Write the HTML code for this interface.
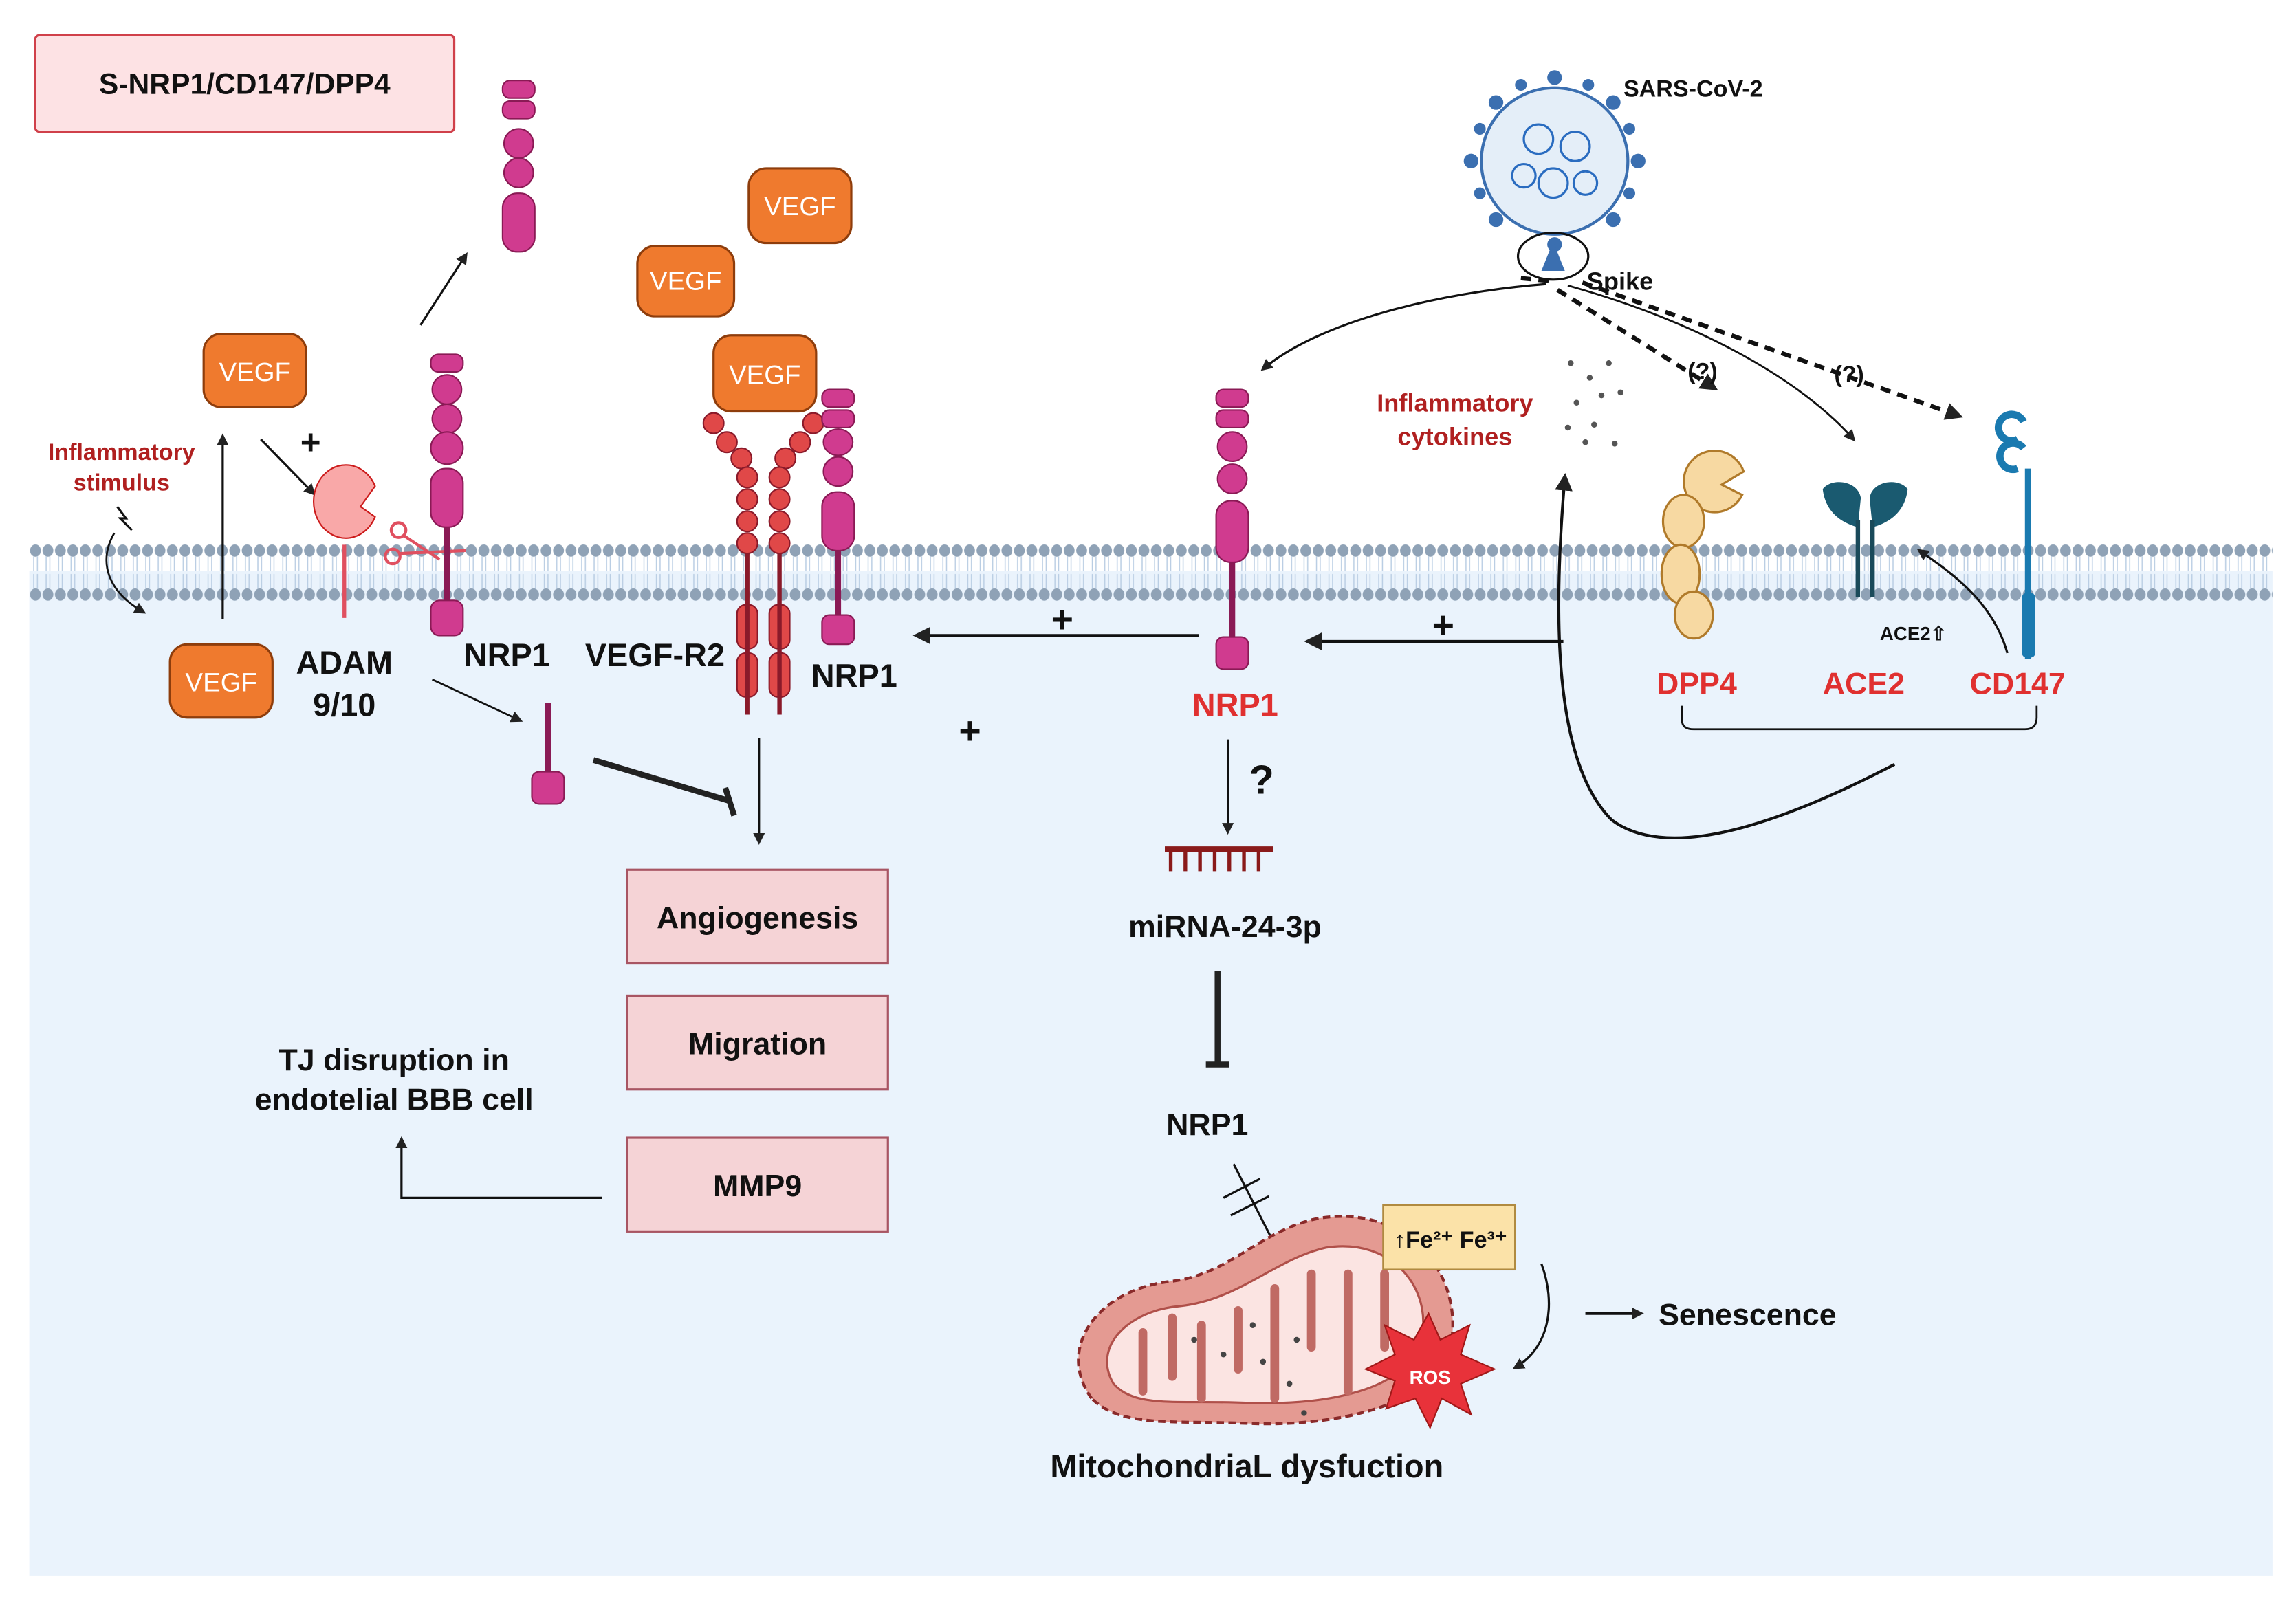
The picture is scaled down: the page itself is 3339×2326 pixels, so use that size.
<!DOCTYPE html>
<html><head><meta charset="utf-8"><style>
html,body{margin:0;padding:0;background:#fff}
svg{display:block}
text{font-family:"Liberation Sans",sans-serif;font-weight:bold}
</style></head><body>
<svg width="3339" height="2326" viewBox="0 0 1567 1092" preserveAspectRatio="none" xmlns="http://www.w3.org/2000/svg">
<defs>
<pattern id="dots" x="20" y="0" width="8.5" height="40" patternUnits="userSpaceOnUse">
<ellipse cx="4.2" cy="376" rx="3.6" ry="4" fill="#8fa2b6"/>
</pattern>
<pattern id="mem" x="20" y="370" width="8.5" height="42" patternUnits="userSpaceOnUse">
<ellipse cx="4.2" cy="6" rx="3.7" ry="4.2" fill="#8fa2b6"/>
<ellipse cx="4.2" cy="36" rx="3.7" ry="4.2" fill="#8fa2b6"/>
<path d="M3 10 L3 20 M5.5 10 L5.5 20 M3 22 L3 32 M5.5 22 L5.5 32" stroke="#b9cde3" stroke-width="0.7"/>
</pattern>
<marker id="ar" markerWidth="8" markerHeight="8" refX="6" refY="4" orient="auto" markerUnits="userSpaceOnUse"><path d="M0,0 L8,4 L0,8 z" fill="#222"/></marker>
<marker id="arb" markerWidth="12" markerHeight="12" refX="9" refY="6" orient="auto" markerUnits="userSpaceOnUse"><path d="M0,0 L12,6 L0,12 z" fill="#222"/></marker>
</defs>
<rect x="20" y="390" width="1531" height="686" fill="#eaf3fc"/>
<rect x="20" y="370" width="1531" height="42" fill="url(#mem)"/>

<!-- title box -->
<rect x="24" y="24" width="286" height="66" rx="3" fill="#fde2e4" stroke="#d0404a" stroke-width="1.5"/>
<text x="167" y="64" font-size="20" text-anchor="middle" fill="#111">S-NRP1/CD147/DPP4</text>

<!-- VEGF boxes -->
<g fill="#ef7a2e" stroke="#8e3d0c" stroke-width="1.5">
<rect x="139" y="228" width="70" height="50" rx="12"/>
<rect x="511" y="115" width="70" height="51" rx="12"/>
<rect x="435" y="168" width="66" height="48" rx="12"/>
<rect x="487" y="229" width="70" height="52" rx="12"/>
<rect x="116" y="440" width="70" height="50" rx="12"/>
</g>
<g font-size="18" fill="#fff" text-anchor="middle" font-weight="normal" style="font-weight:normal">
<text x="174" y="260" style="font-weight:normal">VEGF</text>
<text x="546" y="147" style="font-weight:normal">VEGF</text>
<text x="468" y="198" style="font-weight:normal">VEGF</text>
<text x="522" y="262" style="font-weight:normal">VEGF</text>
<text x="151" y="472" style="font-weight:normal">VEGF</text>
</g>

<!-- Left side -->
<text x="83" y="314" font-size="16" fill="#b02020" text-anchor="middle">Inflammatory</text>
<text x="83" y="335" font-size="16" fill="#b02020" text-anchor="middle">stimulus</text>
<path d="M80 346 L86 354 L82 354 L90 362" stroke="#111" stroke-width="1.5" fill="none"/>
<path d="M78 364 C66 385 75 405 98 418" stroke="#111" stroke-width="1.3" fill="none" marker-end="url(#ar)"/>
<line x1="152" y1="423" x2="152" y2="298" stroke="#111" stroke-width="1.5" marker-end="url(#ar)"/>
<text x="212" y="310" font-size="24" fill="#111" text-anchor="middle">+</text>
<line x1="178" y1="300" x2="214" y2="337" stroke="#111" stroke-width="1.5" marker-end="url(#ar)"/>
<!-- ADAM -->
<path d="M256 332 L246 346 L256 353 A22 25 0 1 1 256 332 Z" fill="#f9a8a8" stroke="#cc1a1a" stroke-width="1"/>
<line x1="235" y1="372" x2="235" y2="422" stroke="#e05060" stroke-width="2.5"/>
<text x="235" y="460" font-size="22" fill="#111" text-anchor="middle">ADAM</text>
<text x="235" y="489" font-size="22" fill="#111" text-anchor="middle">9/10</text>
<!-- scissors -->
<g stroke="#e05060" stroke-width="2" fill="none"><circle cx="272" cy="362" r="5"/><circle cx="268" cy="380" r="5"/><path d="M276 366 L300 382 M273 378 L318 376"/></g>
<!-- NRP1 left -->
<g fill="#d03b8f" stroke="#8a1a55" stroke-width="1">
<rect x="294" y="242" width="22" height="12" rx="5"/>
<ellipse cx="305" cy="266" rx="10" ry="10"/>
<ellipse cx="305" cy="286" rx="10" ry="10"/>
<ellipse cx="305" cy="306" rx="11" ry="11"/>
<rect x="294" y="320" width="22" height="40" rx="10"/>
<rect x="294" y="410" width="22" height="24" rx="6"/>
</g>
<line x1="305" y1="360" x2="305" y2="410" stroke="#8a1a55" stroke-width="4"/>
<text x="346" y="455" font-size="22" fill="#111" text-anchor="middle">NRP1</text>
<line x1="287" y1="222" x2="318" y2="174" stroke="#111" stroke-width="1.5" marker-end="url(#ar)"/>
<!-- soluble NRP1 top -->
<g fill="#d03b8f" stroke="#8a1a55" stroke-width="1">
<rect x="343" y="55" width="22" height="12" rx="5"/>
<rect x="343" y="69" width="22" height="12" rx="5"/>
<ellipse cx="354" cy="98" rx="10" ry="10"/>
<ellipse cx="354" cy="118" rx="10" ry="10"/>
<rect x="343" y="132" width="22" height="40" rx="10"/>
</g>
<!-- cleaved fragment -->
<line x1="295" y1="464" x2="355" y2="492" stroke="#111" stroke-width="1.3" marker-end="url(#ar)"/>
<line x1="374" y1="480" x2="374" y2="530" stroke="#8a1a55" stroke-width="4"/>
<rect x="363" y="527" width="22" height="22" rx="5" fill="#d03b8f" stroke="#8a1a55"/>
<line x1="405" y1="519" x2="498" y2="547" stroke="#222" stroke-width="4"/>
<line x1="495" y1="538" x2="501" y2="557" stroke="#222" stroke-width="4"/>

<!-- VEGF-R2 -->
<g fill="#e04848" stroke="#8a1a2a" stroke-width="1">
<circle cx="487" cy="289" r="7"/><circle cx="496" cy="302" r="7"/><circle cx="506" cy="313" r="7"/>
<ellipse cx="510" cy="326" rx="7" ry="7"/><ellipse cx="510" cy="341" rx="7" ry="7"/><ellipse cx="510" cy="356" rx="7" ry="7"/><ellipse cx="510" cy="371" rx="7" ry="7"/>
<circle cx="555" cy="289" r="7"/><circle cx="546" cy="302" r="7"/><circle cx="536" cy="313" r="7"/>
<ellipse cx="532" cy="326" rx="7" ry="7"/><ellipse cx="532" cy="341" rx="7" ry="7"/><ellipse cx="532" cy="356" rx="7" ry="7"/><ellipse cx="532" cy="371" rx="7" ry="7"/>
<rect x="503" y="413" width="14" height="30" rx="6"/><rect x="503" y="446" width="14" height="30" rx="6"/>
<rect x="525" y="413" width="14" height="30" rx="6"/><rect x="525" y="446" width="14" height="30" rx="6"/>
</g>
<line x1="510" y1="378" x2="510" y2="488" stroke="#8a1a2a" stroke-width="3"/>
<line x1="532" y1="378" x2="532" y2="488" stroke="#8a1a2a" stroke-width="3"/>
<text x="447" y="455" font-size="22" fill="#111" text-anchor="middle">VEGF-R2</text>
<!-- NRP1 middle -->
<g fill="#d03b8f" stroke="#8a1a55" stroke-width="1">
<rect x="561" y="266" width="22" height="12" rx="5"/>
<rect x="561" y="280" width="22" height="12" rx="5"/>
<ellipse cx="572" cy="302" rx="10" ry="9"/>
<ellipse cx="572" cy="322" rx="10" ry="10"/>
<rect x="561" y="336" width="22" height="40" rx="10"/>
<rect x="561" y="420" width="22" height="20" rx="5"/>
</g>
<line x1="572" y1="376" x2="572" y2="420" stroke="#8a1a55" stroke-width="4"/>
<text x="583" y="469" font-size="22" fill="#111" text-anchor="middle">NRP1</text>
<line x1="518" y1="504" x2="518" y2="575" stroke="#111" stroke-width="1.5" marker-end="url(#ar)"/>
<text x="662" y="508" font-size="26" fill="#111" text-anchor="middle">+</text>

<!-- pink boxes -->
<g fill="#f5d3d6" stroke="#a85563" stroke-width="1.5">
<rect x="428" y="594" width="178" height="64"/>
<rect x="428" y="680" width="178" height="64"/>
<rect x="428" y="777" width="178" height="64"/>
</g>
<text x="517" y="634" font-size="21" fill="#111" text-anchor="middle">Angiogenesis</text>
<text x="517" y="720" font-size="21" fill="#111" text-anchor="middle">Migration</text>
<text x="517" y="817" font-size="21" fill="#111" text-anchor="middle">MMP9</text>
<text x="269" y="731" font-size="21" fill="#111" text-anchor="middle">TJ disruption in</text>
<text x="269" y="758" font-size="21" fill="#111" text-anchor="middle">endotelial BBB cell</text>
<polyline points="411,818 274,818 274,778" fill="none" stroke="#111" stroke-width="1.5" marker-end="url(#ar)"/>

<!-- center NRP1 -->
<line x1="818" y1="434" x2="626" y2="434" stroke="#111" stroke-width="2" marker-end="url(#arb)"/>
<text x="725" y="432" font-size="26" fill="#111" text-anchor="middle">+</text>
<g fill="#d03b8f" stroke="#8a1a55" stroke-width="1">
<rect x="830" y="266" width="22" height="12" rx="5"/>
<rect x="830" y="280" width="22" height="12" rx="5"/>
<ellipse cx="841" cy="305" rx="10" ry="10"/>
<ellipse cx="841" cy="327" rx="10" ry="10"/>
<rect x="830" y="342" width="22" height="42" rx="10"/>
<rect x="830" y="435" width="22" height="22" rx="5"/>
</g>
<line x1="841" y1="384" x2="841" y2="435" stroke="#8a1a55" stroke-width="4"/>
<text x="843" y="489" font-size="22" fill="#e03030" text-anchor="middle">NRP1</text>
<line x1="838" y1="505" x2="838" y2="568" stroke="#111" stroke-width="1.5" marker-end="url(#ar)"/>
<text x="861" y="542" font-size="28" fill="#111" text-anchor="middle">?</text>
<!-- miRNA -->
<line x1="795" y1="580" x2="869" y2="580" stroke="#8a1a1a" stroke-width="4"/>
<g stroke="#8a1a1a" stroke-width="2.5"><line x1="799" y1="580" x2="799" y2="595"/><line x1="809" y1="580" x2="809" y2="595"/><line x1="819" y1="580" x2="819" y2="595"/><line x1="829" y1="580" x2="829" y2="595"/><line x1="839" y1="580" x2="839" y2="595"/><line x1="849" y1="580" x2="849" y2="595"/><line x1="859" y1="580" x2="859" y2="595"/></g>
<text x="836" y="640" font-size="21" fill="#111" text-anchor="middle">miRNA-24-3p</text>
<line x1="831" y1="663" x2="831" y2="727" stroke="#222" stroke-width="4"/>
<line x1="823" y1="727" x2="839" y2="727" stroke="#222" stroke-width="4"/>
<text x="824" y="775" font-size="21" fill="#111" text-anchor="middle">NRP1</text>
<line x1="842" y1="795" x2="870" y2="850" stroke="#111" stroke-width="1.5" marker-end="url(#ar)"/>
<line x1="835" y1="818" x2="860" y2="805" stroke="#111" stroke-width="1.5"/>
<line x1="840" y1="830" x2="866" y2="817" stroke="#111" stroke-width="1.5"/>

<!-- mitochondria -->
<path d="M745 955 C720 920 750 880 800 875 C840 870 860 840 900 832 C960 822 1000 870 990 920 C980 960 910 975 850 972 C800 970 765 975 745 955 Z" fill="#e49a92" stroke="#8a2a2a" stroke-width="2" stroke-dasharray="5 3"/>
<path d="M760 945 C745 920 770 895 805 892 C845 888 870 860 905 852 C950 845 978 880 970 915 C960 950 905 960 850 958 C805 956 775 962 760 945 Z" fill="#fbe4e2" stroke="#b0504a" stroke-width="1.5"/>
<g stroke="#c06a64" stroke-width="6" fill="none" stroke-linecap="round">
<path d="M780 950 L780 910"/><path d="M800 900 L800 940"/><path d="M820 955 L820 905"/><path d="M845 895 L845 935"/><path d="M870 955 L870 880"/><path d="M895 870 L895 920"/><path d="M920 950 L920 870"/><path d="M945 870 L945 920"/>
</g>
<g fill="#444"><circle cx="815" cy="915" r="2"/><circle cx="835" cy="925" r="2"/><circle cx="855" cy="905" r="2"/><circle cx="862" cy="930" r="2"/><circle cx="885" cy="915" r="2"/><circle cx="880" cy="945" r="2"/><circle cx="890" cy="965" r="2"/></g>
<polygon points="975,897 983,915 1003,905 997,925 1020,935 997,945 1004,966 984,955 976,975 966,955 946,962 952,943 932,935 952,925 945,905 965,915" fill="#e8323a" stroke="#a01818"/>
<text x="976" y="945" font-size="13" fill="#fff" text-anchor="middle">ROS</text>
<rect x="944" y="823" width="90" height="44" fill="#fbe2a8" stroke="#b08a40" stroke-width="1.2"/>
<text x="990" y="852" font-size="16" fill="#111" text-anchor="middle">↑Fe²⁺ Fe³⁺</text>
<path d="M1052 863 C1062 890 1058 920 1034 934" fill="none" stroke="#111" stroke-width="1.5" marker-end="url(#ar)"/>
<line x1="1082" y1="897" x2="1120" y2="897" stroke="#111" stroke-width="2" marker-end="url(#ar)"/>
<text x="1132" y="905" font-size="21" fill="#111">Senescence</text>
<text x="851" y="1009" font-size="22" fill="#111" text-anchor="middle">MitochondriaL dysfuction</text>

<!-- right: virus -->
<g stroke="#3b6fb0" stroke-width="2">
<circle cx="1061" cy="110" r="50" fill="#e4eef8"/>
</g>
<g fill="#3b6fb0">
<circle cx="1061" cy="53" r="5"/><circle cx="1061" cy="167" r="5"/><circle cx="1004" cy="110" r="5"/><circle cx="1118" cy="110" r="5"/>
<circle cx="1021" cy="70" r="5"/><circle cx="1101" cy="70" r="5"/><circle cx="1021" cy="150" r="5"/><circle cx="1101" cy="150" r="5"/>
<circle cx="1038" cy="58" r="4"/><circle cx="1084" cy="58" r="4"/><circle cx="1010" cy="88" r="4"/><circle cx="1112" cy="88" r="4"/><circle cx="1010" cy="132" r="4"/><circle cx="1112" cy="132" r="4"/>
</g>
<g fill="none" stroke="#2a6cc0" stroke-width="1.5"><circle cx="1050" cy="95" r="10"/><circle cx="1075" cy="100" r="10"/><circle cx="1060" cy="125" r="10"/><circle cx="1040" cy="120" r="8"/><circle cx="1082" cy="125" r="8"/></g>
<ellipse cx="1060" cy="175" rx="24" ry="16" fill="none" stroke="#111" stroke-width="1.5"/>
<path d="M1052 185 L1060 165 L1068 185 Z" fill="#3b6fb0"/>
<text x="1108" y="66" font-size="16" fill="#111">SARS-CoV-2</text>
<text x="1083" y="198" font-size="17" fill="#111">Spike</text>
<path d="M1055 194 C980 200 900 220 862 252" fill="none" stroke="#111" stroke-width="1.5" marker-end="url(#ar)"/>
<path d="M1063 198 L1170 265" stroke="#111" stroke-width="3" stroke-dasharray="7 5" marker-end="url(#arb)"/>
<path d="M1070 195 C1160 220 1230 260 1265 300" fill="none" stroke="#111" stroke-width="1.3" marker-end="url(#ar)"/>
<path d="M1080 193 L1337 284" stroke="#111" stroke-width="3" stroke-dasharray="7 5" marker-end="url(#arb)"/>
<line x1="1038" y1="190" x2="1060" y2="192" stroke="#111" stroke-width="3" stroke-dasharray="7 5"/>
<text x="1162" y="259" font-size="16" fill="#111" text-anchor="middle">(?)</text>
<text x="1262" y="261" font-size="16" fill="#111" text-anchor="middle">(?)</text>
<text x="993" y="281" font-size="17" fill="#b02020" text-anchor="middle">Inflammatory</text>
<text x="993" y="304" font-size="17" fill="#b02020" text-anchor="middle">cytokines</text>
<g fill="#555"><circle cx="1072" cy="248" r="2"/><circle cx="1085" cy="258" r="2"/><circle cx="1098" cy="248" r="2"/><circle cx="1076" cy="275" r="2"/><circle cx="1093" cy="270" r="2"/><circle cx="1106" cy="268" r="2"/><circle cx="1070" cy="292" r="2"/><circle cx="1088" cy="290" r="2"/><circle cx="1102" cy="303" r="2"/><circle cx="1082" cy="302" r="2"/></g>
<line x1="1067" y1="438" x2="893" y2="438" stroke="#111" stroke-width="2" marker-end="url(#arb)"/>
<text x="985" y="436" font-size="26" fill="#111" text-anchor="middle">+</text>
<path d="M1293 522 C1220 560 1140 590 1100 560 C1060 520 1060 420 1068 326" fill="none" stroke="#111" stroke-width="2" marker-end="url(#arb)"/>
<!-- DPP4 -->
<g fill="#f7d9a2" stroke="#b07a2a" stroke-width="1.5">
<path d="M1190 322 L1175 331 L1189 338 A21 21 0 1 1 1190 322 Z"/>
<ellipse cx="1149" cy="356" rx="14" ry="18"/>
<ellipse cx="1147" cy="392" rx="13" ry="20"/>
<ellipse cx="1156" cy="420" rx="13" ry="16"/>
</g>
<!-- ACE2 -->
<g fill="#1a5a70">
<path d="M1244 334 C1250 326 1268 328 1270 340 L1268 360 C1260 358 1246 352 1244 334Z"/>
<path d="M1302 334 C1296 326 1278 328 1276 340 L1278 360 C1286 358 1300 352 1302 334Z"/>
</g>
<line x1="1268" y1="355" x2="1268" y2="408" stroke="#1a4a5a" stroke-width="3"/>
<line x1="1278" y1="355" x2="1278" y2="408" stroke="#1a4a5a" stroke-width="3"/>
<text x="1283" y="437" font-size="13" fill="#111">ACE2⇧</text>
<path d="M1370 446 C1360 410 1330 390 1310 376" fill="none" stroke="#111" stroke-width="1.5" marker-end="url(#ar)"/>
<!-- CD147 -->
<path d="M1377 300 A9 9 0 1 1 1381 288 M1377 320 A9 9 0 1 1 1381 306" fill="none" stroke="#1a7ab0" stroke-width="5"/>
<line x1="1384" y1="320" x2="1384" y2="450" stroke="#1a7ab0" stroke-width="4"/>
<rect x="1380" y="405" width="9" height="44" rx="3" fill="#1a7ab0"/>
<text x="1158" y="474" font-size="21" fill="#e03030" text-anchor="middle">DPP4</text>
<text x="1272" y="474" font-size="21" fill="#e03030" text-anchor="middle">ACE2</text>
<text x="1377" y="474" font-size="21" fill="#e03030" text-anchor="middle">CD147</text>
<path d="M1148 482 L1148 492 Q1148 498 1156 498 L1382 498 Q1390 498 1390 490 L1390 482" fill="none" stroke="#111" stroke-width="1.3"/>
</svg>
</body></html>
